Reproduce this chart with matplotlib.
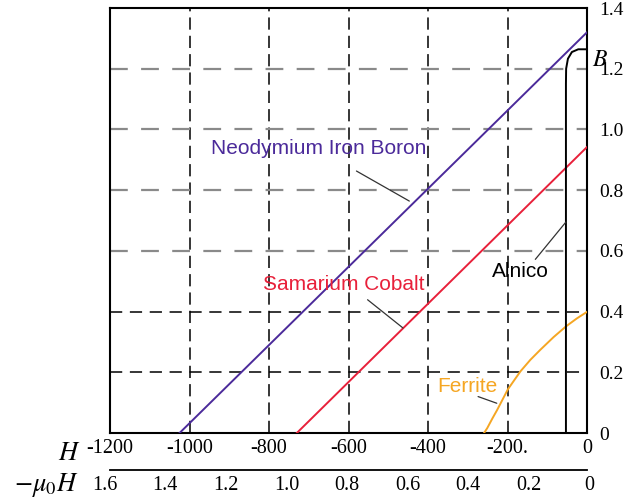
import matplotlib
matplotlib.use("Agg")
import matplotlib.pyplot as plt
import matplotlib.transforms as mtransforms
import numpy as np

# ---- data ----
neo_H = [-1025, 0]
neo_B = [0.0, 1.32]
smco_H = [-730, 0]
smco_B = [0.0, 0.942]
ferrite_H = [-259, -251, -238, -226, -199, -167.5, -142.5, -117.5, -84, -53, -26, 0]
ferrite_B = [0.0, 0.016, 0.048, 0.076, 0.144, 0.203, 0.241, 0.274, 0.316, 0.351, 0.377, 0.399]
alnico_H = [0, -22, -38, -48, -52.5, -53, -53]
alnico_B = [1.264, 1.264, 1.255, 1.233, 1.20, 1.15, 0.0]

x_ticks = [-1200, -1000, -800, -600, -400, -200, 0]
x_labels = ['-1200', '-1000', '-800', '-600', '-400', '-200.', '0']
y_ticks = [0, 0.2, 0.4, 0.6, 0.8, 1.0, 1.2, 1.4]
y_labels = ['0', '0.2', '0.4', '0.6', '0.8', '1.0', '1.2', '1.4']
mu_ticks = [1.6, 1.4, 1.2, 1.0, 0.8, 0.6, 0.4, 0.2, 0]
mu_labels = ['1.6', '1.4', '1.2', '1.0', '0.8', '0.6', '0.4', '0.2', '0']
vgrid = [-1000, -800, -600, -400, -200]
hgrid_black = [0.2, 0.4]
hgrid_gray = [0.6, 0.8, 1.0, 1.2]

purple = '#4b2a9a'
red = '#e8203a'
orange = '#f5a623'

serif = ['Liberation Serif', 'DejaVu Serif']
sans = ['Liberation Sans', 'DejaVu Sans']
plt.rcParams['mathtext.fontset'] = 'stix'

fig = plt.figure(figsize=(6.27, 5.0), dpi=100)
ax = fig.add_axes([110/627, 67/500, 477/627, 425/500])
ax.set_xlim(-1200, 0)
ax.set_ylim(0, 1.4)

for v in vgrid:
    ax.axvline(v, color='black', lw=1.1, ls=(0, (8, 4)), zorder=1)
for h in hgrid_gray:
    ax.axhline(h, color='#8a8a8a', lw=1.6, ls=(0, (8, 6)), zorder=1)
for h in hgrid_black:
    ax.axhline(h, color='black', lw=1.1, ls=(0, (8, 5)), zorder=1)

ax.plot(neo_H, neo_B, color=purple, lw=1.4, zorder=3)
ax.plot(smco_H, smco_B, color=red, lw=1.4, zorder=3)
ax.plot(ferrite_H, ferrite_B, color=orange, lw=1.4, zorder=3)
ax.plot(alnico_H, alnico_B, color='black', lw=1.4, zorder=3)

arrow = dict(arrowstyle='-', color='#333333', lw=0.9, shrinkA=0, shrinkB=0)
tfs = 15
ax.text(-676, 0.936, 'Neodymium Iron Boron', color=purple, fontsize=tfs,
        family=sans, ha='center', va='center')
ax.annotate('', xy=(-447, 0.764), xytext=(-580, 0.863), arrowprops=arrow)
ax.text(-611, 0.489, 'Samarium Cobalt', color=red, fontsize=tfs,
        family=sans, ha='center', va='center')
ax.annotate('', xy=(-463, 0.346), xytext=(-552, 0.439), arrowprops=arrow)
ax.text(-167, 0.532, 'Alnico', color='black', fontsize=tfs,
        family=sans, ha='center', va='center')
ax.annotate('', xy=(-53, 0.695), xytext=(-130, 0.572), arrowprops=arrow)
ax.text(-302, 0.152, 'Ferrite', color=orange, fontsize=tfs,
        family=sans, ha='center', va='center')
ax.annotate('', xy=(-227, 0.098), xytext=(-274, 0.12), arrowprops=arrow)

ax.set_xticks(x_ticks)
ax.set_xticklabels(x_labels, family=serif, fontsize=14.5)
ax.set_yticks(y_ticks)
ax.set_yticklabels(y_labels, family=serif, fontsize=14)
ax.yaxis.tick_right()
ax.tick_params(axis='both', length=0)
ax.tick_params(axis='x', pad=4)
ax.tick_params(axis='y', pad=9)
for s in ax.spines.values():
    s.set_linewidth(1.5)
    s.set_color('black')

# second scale: -mu0 H
sec = ax.secondary_xaxis(-37/425)
sec.set_xticks([])
sec.spines['bottom'].set_linewidth(1.3)
trans = mtransforms.blended_transform_factory(ax.transData, ax.transAxes)
for v, lab in zip(mu_ticks, mu_labels):
    ax.text(-v * 762 + 6, -52/425, lab, transform=trans, family=serif,
            fontsize=14.5, ha='center', va='center')

fig.text(69/627, 1 - 453/500, r'$H$', fontsize=19, ha='center', va='center')
fig.text(46/627, 1 - 485/500, r'$-\mu_0H$', fontsize=19, ha='center', va='center')
fig.text(600/627, 1 - 59/500, r'$B$', fontsize=17, ha='center', va='center')

fig.savefig('out.png', dpi=100)
